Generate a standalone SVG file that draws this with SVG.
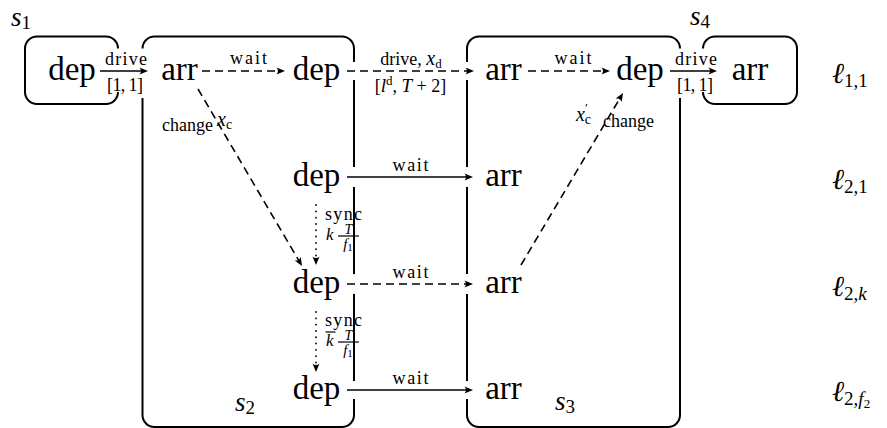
<svg xmlns="http://www.w3.org/2000/svg" width="887" height="428" viewBox="0 0 887 428" font-family="'Liberation Serif', 'DejaVu Serif', serif">
<style>
text{font-family:'Liberation Serif','DejaVu Serif',serif;fill:#000}
.n{font-size:33px;text-anchor:middle}
.l{font-size:18px;text-anchor:middle}
.i{font-style:italic}
.s{font-size:27px;font-style:italic}
.sub{font-size:19px;font-style:normal}
.box{fill:none;stroke:#000;stroke-width:2}
.e{fill:none;stroke:#000;stroke-width:1.6}
.d{stroke-dasharray:8 5}
.dot{stroke-dasharray:0.1 6.2;stroke-linecap:round;stroke-width:1.8}
.row{font-size:29px;font-style:italic}
</style>
<defs>
<marker id="ah" viewBox="0 0 12 10" markerWidth="12" markerHeight="10" refX="7" refY="5" orient="auto" markerUnits="userSpaceOnUse">
<path d="M10,5 L1.5,1.5 Q4.5,5 1.5,8.5 Z" fill="#000"/>
</marker>
</defs>
<rect width="887" height="428" fill="#fff"/>

<g id="s1">
<path class="box" d="M118,48.5 A12,12 0 0 0 106,36.5 H37 A12,12 0 0 0 25,48.5 V92 A12,12 0 0 0 37,104 H106 A12,12 0 0 0 118,92"/>
<text class="s" x="11" y="26">s<tspan class="sub" dy="3">1</tspan></text>
</g>
<g id="s2">
<path class="box" d="M142.5,98 V415 A12,12 0 0 0 154.5,427 H342 A12,12 0 0 0 354,415 V399 M354,381 V294 M354,274 V187 M354,167 V80 M354,62 V48.5 A12,12 0 0 0 342,36.5 H154.5 A12,12 0 0 0 142.5,48.5"/>
<text class="s" x="235" y="411">s<tspan class="sub" dy="3">2</tspan></text>
</g>
<g id="s3">
<path class="box" d="M680,98 V415 A12,12 0 0 1 668,427 H479 A12,12 0 0 1 467,415 V399 M467,381 V294 M467,274 V187 M467,167 V80 M467,62 V48.5 A12,12 0 0 1 479,36.5 H668 A12,12 0 0 1 680,48.5"/>
<text class="s" x="555" y="410">s<tspan class="sub" dy="3">3</tspan></text>
</g>
<g id="s4">
<path class="box" d="M703,48.5 A12,12 0 0 1 715,36.5 H785 A12,12 0 0 1 797,48.5 V92 A12,12 0 0 1 785,104 H715 A12,12 0 0 1 703,92"/>
<text class="s" x="690" y="25">s<tspan class="sub" dy="3">4</tspan></text>
</g>

<g id="n-s1-dep"><text class="n" x="72" y="80">dep</text></g>
<g id="n-s2-arr"><text class="n" x="179.5" y="80">arr</text></g>
<g id="n-s2-dep1"><text class="n" x="316.5" y="80">dep</text></g>
<g id="n-s3-arr1"><text class="n" x="503.5" y="80">arr</text></g>
<g id="n-s3-dep"><text class="n" x="640" y="80">dep</text></g>
<g id="n-s4-arr"><text class="n" x="750" y="80">arr</text></g>
<g id="n-s2-dep2"><text class="n" x="316.5" y="186">dep</text></g>
<g id="n-s3-arr2"><text class="n" x="503.5" y="186">arr</text></g>
<g id="n-s2-dep3"><text class="n" x="316.5" y="293">dep</text></g>
<g id="n-s3-arr3"><text class="n" x="503.5" y="293">arr</text></g>
<g id="n-s2-dep4"><text class="n" x="316.5" y="399">dep</text></g>
<g id="n-s3-arr4"><text class="n" x="503.5" y="399">arr</text></g>

<g id="connectors">
<path class="e" d="M100,71 H145" marker-end="url(#ah)"/>
<text class="l" x="126" y="65" textLength="42">drive</text>
<text class="l" x="125" y="91" textLength="36">[1, 1]</text>

<path class="e d" d="M202,71 H282" marker-end="url(#ah)"/>
<text class="l" x="248.5" y="64" textLength="37">wait</text>

<path class="e d" d="M347,71 H471" marker-end="url(#ah)"/>
<text class="l" x="411" y="65">drive, <tspan class="i" font-size="20">x</tspan><tspan font-size="13" dy="3">d</tspan></text>
<text class="l" x="410.5" y="92">[<tspan class="i" font-size="19">l</tspan><tspan font-size="13" dy="-7">d</tspan><tspan dy="7">, </tspan><tspan class="i" font-size="19">T</tspan> + 2]</text>

<path class="e d" d="M528,71 H607" marker-end="url(#ah)"/>
<text class="l" x="573" y="64" textLength="37">wait</text>

<path class="e" d="M670,71 H714" marker-end="url(#ah)"/>
<text class="l" x="696" y="65" textLength="42">drive</text>
<text class="l" x="695" y="91" textLength="36">[1, 1]</text>

<path class="e" d="M347,177 H470" marker-end="url(#ah)"/>
<text class="l" x="410.5" y="171" textLength="36">wait</text>
<path class="e d" d="M347,284 H470" marker-end="url(#ah)"/>
<text class="l" x="410.5" y="278" textLength="36">wait</text>
<path class="e" d="M347,390 H470" marker-end="url(#ah)"/>
<text class="l" x="410.5" y="384" textLength="36">wait</text>

<path class="e d" d="M198,89 L300.5,263.4" marker-end="url(#ah)"/>
<text class="l" x="213" y="131" style="text-anchor:end">change</text>
<text class="l" x="217" y="126" style="text-anchor:start"><tspan class="i" font-size="20">x</tspan><tspan font-size="14" dy="3">c</tspan></text>

<path class="e d" d="M521,265 L621.5,95.6" marker-end="url(#ah)"/>
<text class="l" x="576" y="121" style="text-anchor:start"><tspan class="i" font-size="20">x</tspan><tspan font-size="13" dy="-9">′</tspan><tspan font-size="14" dx="-3" dy="12">c</tspan></text>
<text class="l" x="603" y="127" style="text-anchor:start">change</text>

<path class="e dot" d="M316,205 V262" marker-end="url(#ah)"/>
<text class="l" x="343.5" y="220" textLength="37">sync</text>
<text class="i" x="326" y="240" font-size="17">k</text>
<line x1="338" y1="236" x2="359" y2="236" stroke="#000" stroke-width="1.2"/>
<text class="i" x="348.5" y="234" font-size="14" text-anchor="middle">T</text>
<text x="348" y="249" font-size="15" text-anchor="middle"><tspan class="i">f</tspan><tspan font-size="11" dy="2">1</tspan></text>

<path class="e dot" d="M316,312 V369" marker-end="url(#ah)"/>
<text class="l" x="343.5" y="326" textLength="37">sync</text>
<line x1="325.5" y1="332" x2="335.5" y2="332" stroke="#000" stroke-width="1.2"/>
<text class="i" x="326" y="346" font-size="17">k</text>
<line x1="338" y1="342" x2="359" y2="342" stroke="#000" stroke-width="1.2"/>
<text class="i" x="348.5" y="340" font-size="14" text-anchor="middle">T</text>
<text x="348" y="355" font-size="15" text-anchor="middle"><tspan class="i">f</tspan><tspan font-size="11" dy="2">1</tspan></text>
</g>

<g id="row-labels">
<text class="row" x="832" y="83">ℓ<tspan class="sub" dy="4">1,1</tspan></text>
<text class="row" x="832" y="189">ℓ<tspan class="sub" dy="4">2,1</tspan></text>
<text class="row" x="832" y="296">ℓ<tspan class="sub" dy="4">2,<tspan class="i">k</tspan></tspan></text>
<text class="row" x="832" y="401">ℓ<tspan class="sub" dy="4">2,<tspan class="i">f</tspan><tspan font-size="13" dy="3">2</tspan></tspan></text>
</g>
</svg>
